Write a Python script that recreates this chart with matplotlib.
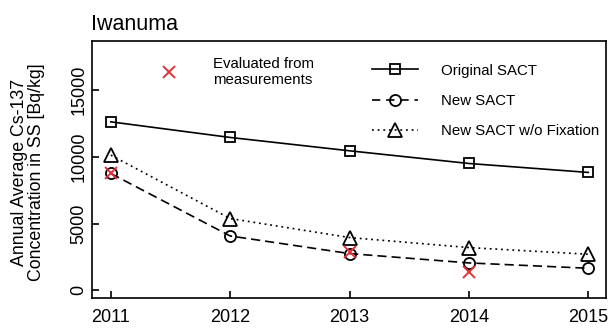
import matplotlib.pyplot as plt
from matplotlib.lines import Line2D

plt.rcParams['font.family'] = ['Liberation Sans', 'DejaVu Sans']

# Annual average Cs-137 in suspended sediment, Iwanuma
years = [2011, 2012, 2013, 2014, 2015]
original_sact = [12620, 11450, 10450, 9500, 8830]
new_sact = [8750, 4070, 2750, 2050, 1650]
new_sact_nofix = [10125, 5375, 3950, 3200, 2700]

meas_years = [2011, 2013, 2014]
meas_values = [8750, 2900, 1350]

yticks = [0, 5000, 10000, 15000]

red = '#e3303a'
lw = 1.2
dash = (5.5, 3.0)
dot = (1.1, 2.3)

fig = plt.figure(figsize=(6.09, 3.31), dpi=100)
ax = fig.add_axes([0.1506, 0.0988, 0.8444, 0.7773])

ax.plot(years, original_sact, color='black', lw=lw, marker='s', ms=7.5,
        mfc='none', mew=1.3)
ax.plot(years, new_sact, color='black', lw=lw, dashes=dash, marker='o',
        ms=8, mfc='none', mew=1.3)
ax.plot(years, new_sact_nofix, color='black', lw=lw, dashes=dot,
        marker='^', ms=9.5, mfc='none', mew=1.3)
ax.plot(meas_years, meas_values, ls='none', marker='x', color=red,
        ms=8, mew=1.4)

ax.set_xlim(2010.84, 2015.148)
ax.set_ylim(-600, 18675)
ax.set_xticks(years)
ax.set_yticks(yticks)
ax.set_yticklabels([str(v) for v in yticks], rotation=90, va='center')
ax.tick_params(direction='in', length=5, width=1.2, labelsize=13)
ax.tick_params(axis='x', pad=8)
ax.tick_params(axis='y', pad=3)
for s in ax.spines.values():
    s.set_linewidth(1.2)

ax.set_ylabel('Annual Average Cs-137\nConcentration in SS [Bq/kg]',
              fontsize=12.8, linespacing=1.0)
ax.yaxis.set_label_coords(-0.09, 0.49)
fig.text(0.149, 0.908, 'Iwanuma', fontsize=15.5, ha='left', va='baseline')

# key for the measured points
ax.plot([2011.49], [16330], ls='none', marker='x', color=red, ms=8, mew=1.4)
ax.text(2011.854, 16330, 'Evaluated from\nmeasurements', fontsize=10.8,
        va='center', ha='left', linespacing=1.2)

handles = [
    Line2D([], [], color='black', lw=lw, marker='s', ms=7.5, mfc='none', mew=1.3),
    Line2D([], [], color='black', lw=lw, dashes=(5, 3.5), marker='o', ms=8,
           mfc='none', mew=1.3),
    Line2D([], [], color='black', lw=lw, dashes=dot, marker='^', ms=9.5,
           mfc='none', mew=1.3),
]
labels = ['Original SACT', 'New SACT', 'New SACT w/o Fixation']
ax.legend(handles, labels, loc='upper left', bbox_to_anchor=(0.546, 0.912),
          frameon=False, fontsize=10.8, handlelength=3.05, handletextpad=1.5,
          labelspacing=1.08, borderpad=0, borderaxespad=0)

fig.savefig('out.png', dpi=100)
